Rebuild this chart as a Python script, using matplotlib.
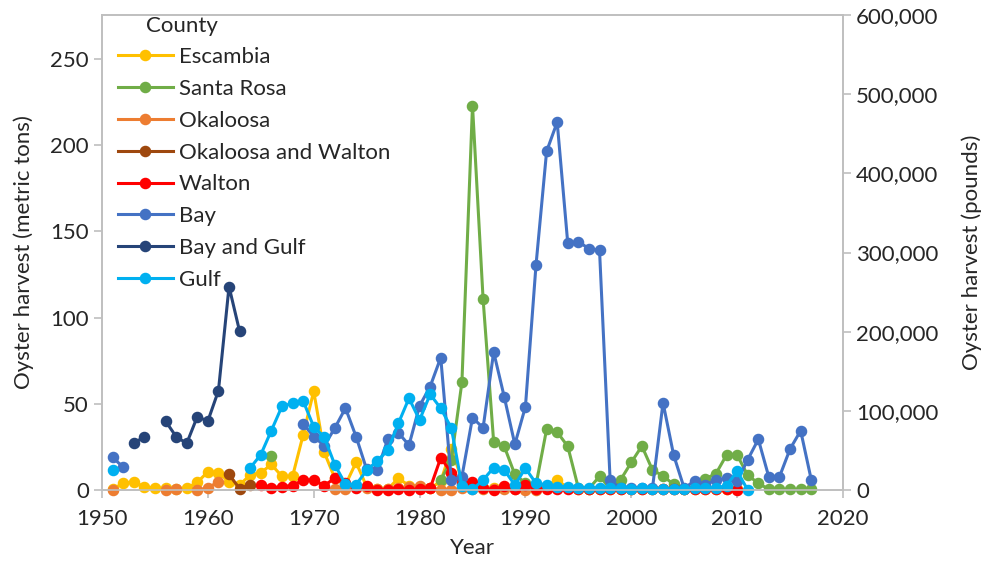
import numpy as np
import matplotlib.pyplot as plt
from matplotlib.ticker import FuncFormatter

nan = np.nan

# harvest in metric tons, one value per year 1951-2017 (rows of ten years)
years = np.arange(1951, 2018)

escambia = [0.5, 3.9, 4.8, 1.8, 1.2, 1.0, 0.8, 1.0, 4.5, 10.5,
            10.0, 4.8, 3.0, 8.7, 10.0, 14.8, 7.9, 7.9, 31.9, 57.3,
            21.8, 6.8, 3.0, 16.0, 2.0, 0.5, 0.5, 6.8, 2.5, 1.0,
            1.0, 5.0, 24.0, 6.0, 2.0, 1.0, 1.0, 1.5, 1.0, 1.0,
            1.0, 2.0, 6.0, 1.0, 0.5, 0.3, 0.3, 0.3, 0.3, 0.3,
            0.3, 0.3, 0.3, 0.3, 0.3, 0.3, 0.3, 0.3, 0.3, 0.3,
            nan, nan, nan, nan, nan, nan, nan]

santa_rosa = [nan, nan, nan, nan, nan, nan, nan, nan, nan, nan,
              nan, nan, nan, nan, nan, 19.5, nan, nan, nan, nan,
              nan, nan, nan, nan, nan, nan, nan, nan, nan, nan,
              nan, 5.8, 17.4, 62.5, 223.0, 110.8, 27.8, 25.3, 9.0, 4.0,
              3.0, 35.2, 33.6, 25.3, 1.2, 0.8, 7.9, 1.0, 6.0, 16.0,
              25.5, 11.6, 8.2, 3.2, 0.5, 1.0, 6.5, 9.5, 20.3, 20.3,
              8.5, 4.0, 0.3, 0.3, 0.3, 0.3, 0.3]

okaloosa = [0.0, nan, nan, nan, nan, 0.0, 0.3, nan, 0.0, 1.2,
            4.8, nan, nan, nan, nan, nan, nan, nan, nan, nan,
            nan, 0.8, 0.3, 1.5, 1.0, 0.5, 0.5, 1.0, 2.0, 2.6,
            1.0, 0.0, 0.0, 1.0, 0.5, 0.5, 0.3, 0.5, 0.3, 0.0,
            0.0, nan, nan, nan, nan, nan, nan, nan, nan, nan,
            nan, nan, nan, nan, nan, nan, nan, nan, nan, nan,
            nan, nan, nan, nan, nan, nan, nan]

okaloosa_walton = [nan, nan, nan, nan, nan, nan, nan, nan, nan, nan,
                   nan, 9.0, 0.8, 3.0, nan, nan, nan, nan, nan, nan,
                   nan, nan, nan, nan, nan, nan, nan, nan, nan, nan,
                   nan, nan, nan, nan, nan, nan, nan, nan, nan, nan,
                   nan, nan, nan, nan, nan, nan, nan, nan, nan, nan,
                   nan, nan, nan, nan, nan, nan, nan, nan, nan, nan,
                   nan, nan, nan, nan, nan, nan, nan]

walton = [nan, nan, nan, nan, nan, nan, nan, nan, nan, nan,
          nan, nan, nan, nan, 2.9, 1.2, 2.0, 2.6, 5.8, 5.8,
          2.5, 7.0, 4.3, 1.3, 2.5, 0.2, 0.2, 0.8, 0.2, 0.4,
          1.0, 18.7, 10.0, 3.5, 4.8, 1.0, 0.2, 2.2, 0.7, 3.1,
          0.5, 0.3, 0.3, 0.3, 0.3, 0.3, 0.3, 0.3, 0.3, 0.3,
          0.3, 0.3, 0.3, 0.3, 0.3, 0.3, 0.3, 0.3, 0.3, 0.0,
          nan, nan, nan, nan, nan, nan, nan]

bay = [19.0, 13.2, nan, nan, nan, nan, nan, nan, nan, nan,
       nan, nan, nan, nan, nan, nan, nan, nan, 38.5, 31.0,
       25.7, 36.0, 47.5, 31.0, 12.0, 11.5, 29.5, 33.2, 26.0, 48.8,
       60.0, 76.8, 5.8, 7.7, 42.0, 36.0, 80.0, 54.0, 26.5, 48.3,
       130.5, 196.4, 213.4, 143.0, 144.0, 140.0, 139.0, 5.8, 1.0, 1.0,
       1.0, 1.0, 50.6, 20.3, 1.0, 5.4, 3.0, 5.8, 6.8, 5.0,
       17.6, 29.4, 7.4, 7.7, 23.8, 34.4, 6.0]

bay_gulf = [nan, nan, 27.0, 31.0, nan, 40.0, 31.0, 27.0, 42.5, 40.0,
            57.6, 118.0, 92.0, nan, nan, nan, nan, nan, nan, nan,
            nan, nan, nan, nan, nan, nan, nan, nan, nan, nan,
            nan, nan, nan, nan, nan, nan, nan, nan, nan, nan,
            nan, nan, nan, nan, nan, nan, nan, nan, nan, nan,
            nan, nan, nan, nan, nan, nan, nan, nan, nan, nan,
            nan, nan, nan, nan, nan, nan, nan]

gulf = [11.4, nan, nan, nan, nan, nan, nan, nan, nan, nan,
        nan, nan, nan, 12.8, 20.5, 34.5, 48.5, 50.3, 51.7, 36.7,
        30.6, 14.5, 3.4, 3.1, 11.4, 16.9, 23.0, 38.7, 53.2, 40.6,
        55.5, 47.4, 36.0, 2.5, 0.3, 5.8, 13.0, 11.6, 2.9, 12.6,
        3.9, 2.9, 2.0, 1.7, 1.2, 1.0, 1.0, 1.2, 1.0, 0.8,
        1.0, 0.8, 0.8, 0.8, 0.8, 1.0, 1.0, 1.2, 2.5, 11.0,
        0.0, nan, nan, nan, nan, nan, nan]

counties = ['Escambia', 'Santa Rosa', 'Okaloosa', 'Okaloosa and Walton',
            'Walton', 'Bay', 'Bay and Gulf', 'Gulf']
series = [escambia, santa_rosa, okaloosa, okaloosa_walton,
          walton, bay, bay_gulf, gulf]
colors = ['#FFC000', '#70AD47', '#ED7D31', '#9E480E',
          '#FF0000', '#4472C4', '#264478', '#00B0F0']

plt.rcParams['font.family'] = ['Lato', 'DejaVu Sans']
grey = '#BFBFBF'
txt = '#262626'

fig = plt.figure(figsize=(9.87, 5.65), dpi=100)
ax = fig.add_axes([102/987, 75/565, 741/987, 475/565])

for vals, name, c in zip(series, counties, colors):
    ax.plot(years, vals, color=c, lw=2.2, marker='o', ms=7.3,
            label=name, clip_on=False, zorder=3)

ax.set_xlim(1950, 2020)
ax.set_ylim(0, 275.5)
ax.set_xticks(range(1950, 2021, 10))
ax.set_yticks(range(0, 251, 50))
ax.set_xlabel('Year', fontsize=16, color=txt, labelpad=6)
ax.set_ylabel('Oyster harvest (metric tons)', fontsize=16, color=txt, labelpad=12)

ax2 = ax.twinx()
ax2.set_ylim(0, 600000)
ax2.set_yticks(range(0, 600001, 100000))
ax2.yaxis.set_major_formatter(FuncFormatter(lambda v, p: '{:,.0f}'.format(v)))
ax2.set_ylabel('Oyster harvest (pounds)', fontsize=16, color=txt, labelpad=16)

for a in (ax, ax2):
    for s in a.spines.values():
        s.set_color(grey)
        s.set_linewidth(1.2)
    a.tick_params(colors=grey, labelcolor=txt, labelsize=16, length=6, width=1.2)
ax.tick_params(axis='x', pad=8)

ax.text(146, 565 - 26, 'County', transform=None, fontsize=16, color=txt, va='center')
leg = ax.legend(loc='upper left', bbox_to_anchor=(0.0, 0.965), frameon=False,
                fontsize=16, handlelength=2.5, handletextpad=0.25,
                labelspacing=0.53, borderaxespad=0.3)
for t in leg.get_texts():
    t.set_color(txt)

fig.savefig('out.png', dpi=100)
